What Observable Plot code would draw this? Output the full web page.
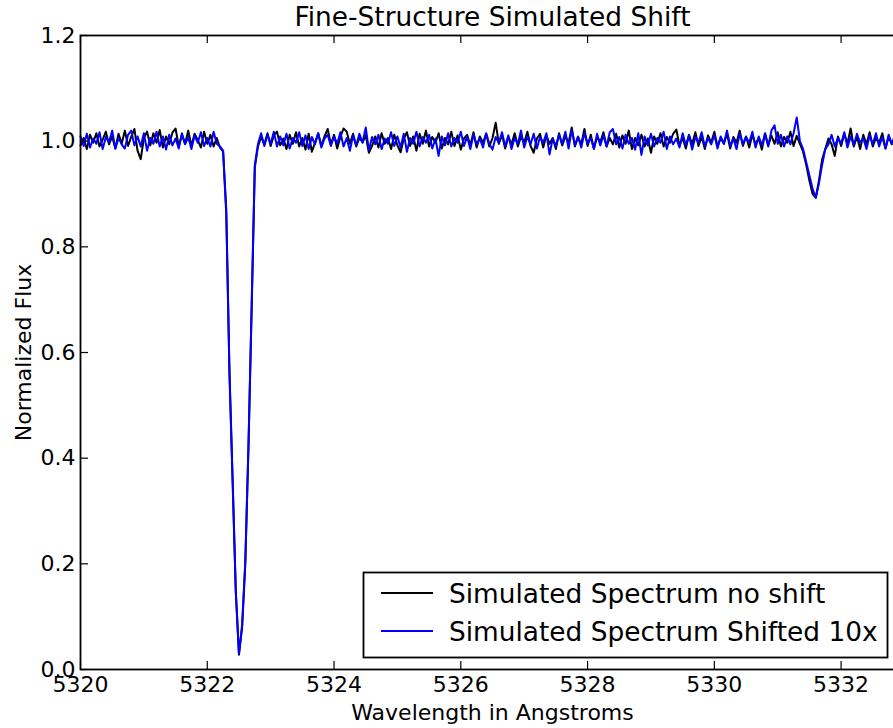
<!DOCTYPE html>
<html>
<head>
<meta charset="utf-8">
<script src="https://cdn.jsdelivr.net/npm/d3@7"></script>
<script src="https://cdn.jsdelivr.net/npm/@observablehq/plot@0.6"></script>
<style>
  html, body { margin: 0; padding: 0; background: #fff; overflow: hidden; }
  #wrap { position: relative; width: 893px; height: 728px; overflow: hidden; background: #fff; }
  #wrap svg { max-width: none !important; }
</style>
</head>
<body>
<div id="wrap"></div>
<script>
// ---- Data ----
const title = "Fine-Structure Simulated Shift";
const xLabel = "Wavelength in Angstroms";
const yLabel = "Normalized Flux";
const seriesNames = ["Simulated Spectrum no shift", "Simulated Spectrum Shifted 10x"];
const seriesColors = ["#000000", "#0000ff"];
const xTicks = [5320, 5322, 5324, 5326, 5328, 5330, 5332];
const yTicks = [0.0, 0.2, 0.4, 0.6, 0.8, 1.0, 1.2];
const xDomain = [5320, 5333];
const yDomain = [0, 1.2];

const wavelengths = [
5320.00,5320.05,5320.10,5320.15,5320.20,5320.25,5320.30,5320.35,5320.40,5320.45,
5320.50,5320.55,5320.60,5320.65,5320.70,5320.75,5320.80,5320.85,5320.90,5320.95,
5321.00,5321.05,5321.10,5321.15,5321.20,5321.25,5321.30,5321.35,5321.40,5321.45,
5321.50,5321.55,5321.60,5321.65,5321.70,5321.75,5321.80,5321.85,5321.90,5321.95,
5322.00,5322.05,5322.10,5322.15,5322.20,5322.25,5322.30,5322.35,5322.40,5322.45,
5322.50,5322.55,5322.60,5322.65,5322.70,5322.75,5322.80,5322.85,5322.90,5322.95,
5323.00,5323.05,5323.10,5323.15,5323.20,5323.25,5323.30,5323.35,5323.40,5323.45,
5323.50,5323.55,5323.60,5323.65,5323.70,5323.75,5323.80,5323.85,5323.90,5323.95,
5324.00,5324.05,5324.10,5324.15,5324.20,5324.25,5324.30,5324.35,5324.40,5324.45,
5324.50,5324.55,5324.60,5324.65,5324.70,5324.75,5324.80,5324.85,5324.90,5324.95,
5325.00,5325.05,5325.10,5325.15,5325.20,5325.25,5325.30,5325.35,5325.40,5325.45,
5325.50,5325.55,5325.60,5325.65,5325.70,5325.75,5325.80,5325.85,5325.90,5325.95,
5326.00,5326.05,5326.10,5326.15,5326.20,5326.25,5326.30,5326.35,5326.40,5326.45,
5326.50,5326.55,5326.60,5326.65,5326.70,5326.75,5326.80,5326.85,5326.90,5326.95,
5327.00,5327.05,5327.10,5327.15,5327.20,5327.25,5327.30,5327.35,5327.40,5327.45,
5327.50,5327.55,5327.60,5327.65,5327.70,5327.75,5327.80,5327.85,5327.90,5327.95,
5328.00,5328.05,5328.10,5328.15,5328.20,5328.25,5328.30,5328.35,5328.40,5328.45,
5328.50,5328.55,5328.60,5328.65,5328.70,5328.75,5328.80,5328.85,5328.90,5328.95,
5329.00,5329.05,5329.10,5329.15,5329.20,5329.25,5329.30,5329.35,5329.40,5329.45,
5329.50,5329.55,5329.60,5329.65,5329.70,5329.75,5329.80,5329.85,5329.90,5329.95,
5330.00,5330.05,5330.10,5330.15,5330.20,5330.25,5330.30,5330.35,5330.40,5330.45,
5330.50,5330.55,5330.60,5330.65,5330.70,5330.75,5330.80,5330.85,5330.90,5330.95,
5331.00,5331.05,5331.10,5331.15,5331.20,5331.25,5331.30,5331.35,5331.40,5331.45,
5331.50,5331.55,5331.60,5331.65,5331.70,5331.75,5331.80,5331.85,5331.90,5331.95,
5332.00,5332.05,5332.10,5332.15,5332.20,5332.25,5332.30,5332.35,5332.40,5332.45,
5332.50,5332.55,5332.60,5332.65,5332.70,5332.75,5332.80,5332.85,5332.90,5332.95,
5333.00
];

const fluxNoShift = [
0.992,1.006,0.985,1.012,0.997,1.015,0.990,1.003,1.018,0.994,
1.009,0.986,1.014,0.995,1.020,0.991,1.008,1.023,0.982,0.966,
1.006,1.018,0.992,1.015,0.997,1.021,0.988,1.009,0.994,1.016,
1.024,0.990,1.012,0.995,1.020,0.991,1.014,1.002,0.988,1.018,
0.995,1.012,0.990,1.006,0.988,0.980,0.870,0.565,0.360,0.150,
0.028,0.080,0.200,0.420,0.680,0.950,0.990,1.008,0.994,1.015,
0.991,1.011,1.018,0.992,1.005,0.985,1.012,0.995,1.017,0.990,
1.006,0.984,1.014,0.980,0.997,1.015,0.991,1.009,1.023,0.994,
1.012,0.986,1.008,1.024,1.018,0.995,1.014,0.990,1.006,0.998,
1.011,0.978,0.991,1.009,0.988,1.015,0.995,1.006,0.985,1.012,
0.992,0.979,1.005,1.017,0.991,1.009,0.982,1.014,0.995,1.020,
0.990,1.008,0.997,1.015,0.986,1.006,0.994,1.018,0.991,1.011,
0.984,1.005,1.012,0.992,1.017,0.988,1.009,0.997,1.014,0.990,
1.006,1.035,0.995,1.012,0.986,1.008,0.994,1.015,0.990,1.009,
0.997,1.018,0.991,0.978,1.005,1.014,0.988,1.011,0.995,1.006,
0.985,1.015,0.992,1.009,0.997,1.026,0.990,1.008,0.994,1.023,
0.991,1.012,0.986,1.008,0.998,1.017,0.990,1.006,0.994,1.014,
0.988,1.011,0.995,1.020,0.985,1.006,0.992,1.012,0.990,1.005,
0.978,1.009,0.995,1.015,0.990,1.008,0.997,1.014,1.022,0.992,
1.006,0.986,1.012,0.994,1.017,0.991,1.009,0.985,1.011,0.997,
1.018,0.990,1.006,0.995,1.014,0.986,1.008,0.997,1.020,0.991,
1.009,0.988,1.012,0.994,1.005,0.984,1.015,0.992,1.011,0.995,
1.017,0.990,1.008,0.997,1.018,0.991,1.010,0.995,0.980,0.955,
0.925,0.900,0.893,0.925,0.965,0.985,1.005,0.994,0.972,1.009,
0.991,1.014,0.995,1.024,0.990,1.009,0.985,1.012,0.994,1.017,
0.990,1.006,0.997,1.015,0.986,1.008,0.994,1.012,0.991,1.003,
0.997
];

const fluxShifted = [
1.009,0.991,1.014,0.988,1.005,0.995,1.017,0.985,1.008,0.998,
1.020,0.986,1.006,0.994,0.986,1.012,1.020,0.992,1.009,0.990,
1.015,0.982,1.006,0.995,1.018,0.990,1.009,0.984,1.012,0.992,
1.005,0.986,1.015,0.994,1.008,0.985,1.011,0.997,1.017,0.991,
1.006,0.990,1.018,0.995,0.990,0.982,0.860,0.560,0.355,0.145,
0.030,0.085,0.205,0.425,0.690,0.955,0.995,1.015,0.991,1.012,
0.995,1.018,0.990,1.009,0.992,1.014,0.986,1.006,0.997,1.017,
0.991,1.011,0.985,1.008,0.994,1.015,0.988,1.005,1.012,0.991,
1.009,0.995,1.017,0.990,1.006,0.982,1.011,0.992,1.014,0.997,
1.026,0.983,1.008,0.994,1.012,0.985,1.005,0.995,1.017,0.991,
1.009,0.988,1.014,0.980,1.006,0.995,1.018,0.990,1.008,0.997,
1.012,0.986,1.005,0.972,1.009,0.992,1.015,0.990,1.006,0.997,
1.018,0.991,1.009,0.985,1.012,0.994,1.005,0.988,1.015,0.995,
0.984,1.008,0.997,1.017,0.990,1.011,0.985,1.006,0.995,1.020,
0.988,1.009,0.994,1.014,0.986,1.008,0.997,1.015,0.975,1.005,
0.991,1.012,0.995,1.018,0.986,1.021,0.992,1.009,0.988,1.015,
0.995,1.006,0.985,1.014,0.992,1.011,0.990,1.017,1.023,0.994,
1.008,0.986,1.012,0.995,1.006,0.984,1.015,0.974,1.009,0.992,
1.014,0.990,1.006,0.997,1.018,0.985,1.009,0.994,1.005,0.988,
1.015,0.992,1.011,0.984,1.008,0.997,1.017,0.990,1.006,0.994,
1.012,0.986,1.009,0.995,1.020,0.991,1.005,0.985,1.014,0.994,
1.008,0.997,1.018,0.988,1.009,0.992,1.014,0.990,1.020,1.030,
0.995,1.012,0.990,1.009,0.994,1.015,1.045,1.000,0.985,0.960,
0.935,0.910,0.893,0.920,0.955,0.985,0.994,1.012,0.990,1.006,
0.995,1.017,0.988,1.009,0.992,1.014,0.997,1.006,0.985,1.011,
0.994,1.015,0.990,1.008,0.986,1.012,0.995,1.005,0.991,1.009,
0.997
];

// ---- Layout ----
const W = 905, H = 728;
const mL = 80, mR = 1, mT = 35, mB = 59;
const innerW = W - mL - mR, innerH = H - mT - mB;
const tickLen = 8;

const n = Math.min(wavelengths.length, fluxNoShift.length, fluxShifted.length);
const rowsA = d3.range(n).map(i => ({w: wavelengths[i], f: fluxNoShift[i]}));
const rowsB = d3.range(n).map(i => ({w: wavelengths[i], f: fluxShifted[i]}));

const chart = Plot.plot({
  width: W,
  height: H,
  marginLeft: mL, marginRight: mR, marginTop: mT, marginBottom: mB,
  style: {fontFamily: "'DejaVu Sans', sans-serif", fontSize: "22px", background: "white", color: "black", overflow: "visible", maxWidth: "none", height: H + "px", width: W + "px"},
  x: {domain: xDomain, label: null},
  y: {domain: yDomain, label: null},
  marks: [
    Plot.line(rowsA, {x: "w", y: "f", stroke: seriesColors[0], strokeWidth: 2}),
    Plot.line(rowsB, {x: "w", y: "f", stroke: seriesColors[1], strokeWidth: 2}),
    Plot.frame({stroke: "black", strokeWidth: 1.8}),
    // inward ticks on all four sides
    Plot.tickX(xTicks, {x: d => d, stroke: "black", strokeWidth: 1.2, insetTop: innerH - tickLen}),
    Plot.tickX(xTicks, {x: d => d, stroke: "black", strokeWidth: 1.2, insetBottom: innerH - tickLen}),
    Plot.tickY(yTicks, {y: d => d, stroke: "black", strokeWidth: 1.2, insetRight: innerW - tickLen}),
    Plot.tickY(yTicks, {y: d => d, stroke: "black", strokeWidth: 1.2, insetLeft: innerW - tickLen}),
    Plot.axisX(xTicks, {tickSize: 0, tickPadding: 7, tickFormat: "d", fontSize: 22, label: null}),
    Plot.axisY(yTicks, {tickSize: 0, tickPadding: 5, tickFormat: ".1f", fontSize: 22, label: null}),
    Plot.text([xLabel], {frameAnchor: "bottom", lineAnchor: "middle", textAnchor: "middle", dy: 43, fontSize: 22, fill: "black"}),
    Plot.text([yLabel], {frameAnchor: "left", lineAnchor: "middle", textAnchor: "middle", dx: -57, rotate: -90, fontSize: 22, fill: "black"}),
    Plot.text([title], {frameAnchor: "top", lineAnchor: "middle", textAnchor: "middle", dy: -18, fontSize: 26.4, fill: "black"})
  ]
});
chart.style.maxWidth = "none";

const wrap = document.getElementById("wrap");
wrap.appendChild(chart);

// ---- Legend (drawn as its own small SVG over the plot) ----
const lg = d3.create("svg")
  .attr("width", 893).attr("height", 728)
  .style("position", "absolute").style("left", "0px").style("top", "0px")
  .style("font-family", "'DejaVu Sans', sans-serif");
lg.append("rect")
  .attr("x", 363.5).attr("y", 572.5).attr("width", 524).attr("height", 85)
  .attr("fill", "white").attr("stroke", "black").attr("stroke-width", 1.8);
seriesNames.forEach((name, i) => {
  const cy = 593 + i * 38;
  lg.append("line").attr("x1", 381).attr("x2", 433).attr("y1", cy).attr("y2", cy)
    .attr("stroke", seriesColors[i]).attr("stroke-width", 2);
  lg.append("text").attr("x", 449).attr("y", cy + 10)
    .attr("font-size", 26.4).attr("fill", "black").text(name);
});
wrap.appendChild(lg.node());
</script>
</body>
</html>
